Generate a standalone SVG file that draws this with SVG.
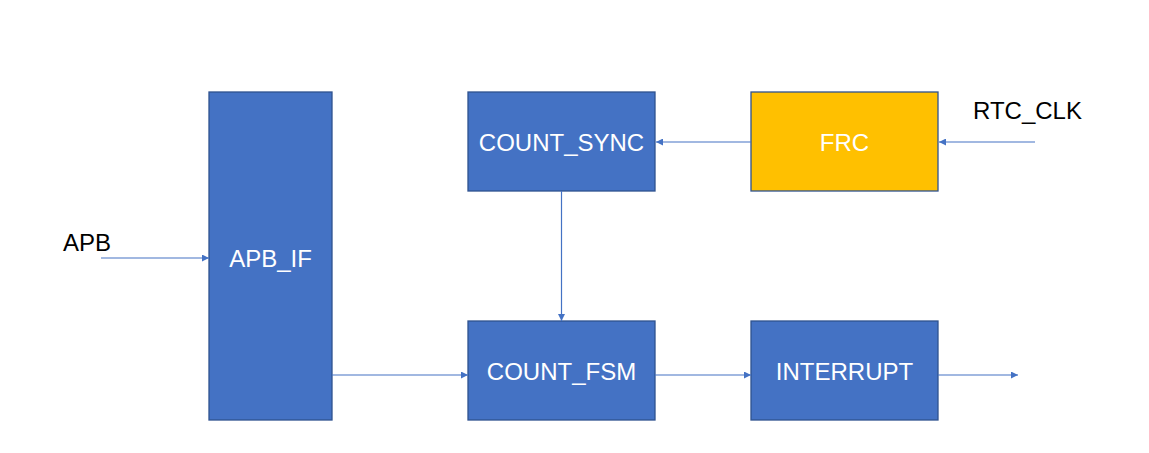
<svg xmlns="http://www.w3.org/2000/svg" width="1149" height="453" viewBox="0 0 1149 453">
<style>
.box{fill:#4472C4;stroke:#2F528F;stroke-width:1.3}
.frc{fill:#FFC000;stroke:#2F528F;stroke-width:1.3}
.lbl{font-family:"Liberation Sans",Arial,sans-serif;font-size:24px;fill:#ffffff;text-anchor:middle;dominant-baseline:central}
.ext{font-family:"Liberation Sans",Arial,sans-serif;font-size:24px;fill:#000000}
.wire{stroke:#4472C4;stroke-width:1.2;fill:none;marker-end:url(#ah)}
</style>
<defs>
<marker id="ah" viewBox="0 0 10 10" refX="10" refY="5" markerWidth="8" markerHeight="7" markerUnits="userSpaceOnUse" orient="auto">
<path d="M0,0 L10,5 L0,10 Z" fill="#4472C4"/>
</marker>
</defs>
<rect width="1149" height="453" fill="#ffffff"/>
<g id="apb_if"><rect class="box" x="209" y="92" width="123" height="328"/><text class="lbl" x="270.5" y="258">APB_IF</text></g>
<g id="count_sync"><rect class="box" x="468" y="92" width="187" height="99"/><text class="lbl" x="561.5" y="142">COUNT_SYNC</text></g>
<g id="frc"><rect class="frc" x="751" y="92" width="187" height="99"/><text class="lbl" x="844.5" y="142">FRC</text></g>
<g id="count_fsm"><rect class="box" x="468" y="321" width="187" height="99"/><text class="lbl" x="561.5" y="371">COUNT_FSM</text></g>
<g id="interrupt"><rect class="box" x="751" y="321" width="187" height="99"/><text class="lbl" x="844.5" y="371">INTERRUPT</text></g>
<g id="labels">
<text class="ext" x="63" y="251">APB</text>
<text class="ext" x="973" y="119">RTC_CLK</text>
</g>
<g id="connectors">
<line class="wire" x1="101" y1="258" x2="209" y2="258"/>
<line class="wire" x1="1035" y1="142" x2="939" y2="142"/>
<line class="wire" x1="751" y1="142" x2="656" y2="142"/>
<line class="wire" x1="561.5" y1="191" x2="561.5" y2="321"/>
<line class="wire" x1="332" y1="375" x2="468" y2="375"/>
<line class="wire" x1="655" y1="375" x2="751" y2="375"/>
<line class="wire" x1="938" y1="375" x2="1018" y2="375"/>
</g>
</svg>
